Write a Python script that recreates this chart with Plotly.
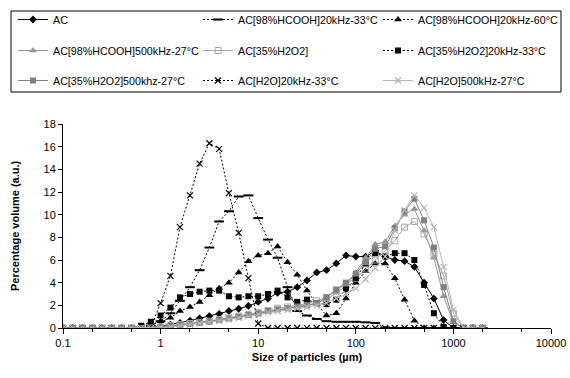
import plotly.graph_objects as go

sizes = [0.1, 0.126, 0.158, 0.2, 0.251, 0.316, 0.398, 0.501, 0.631, 0.794,
         1, 1.26, 1.58, 2, 2.51, 3.16, 3.98, 5.01, 6.31, 7.94,
         10, 12.6, 15.8, 20, 25.1, 31.6, 39.8, 50.1, 63.1, 79.4,
         100, 126, 158, 200, 251, 316, 398, 501, 631, 794,
         1000, 1259, 1585, 1995]

ac = [0, 0, 0, 0, 0, 0, 0, 0, 0, 0.05,
      0.15, 0.3, 0.45, 0.65, 0.85, 1.05, 1.25, 1.5, 1.7, 1.95,
      2.3, 2.6, 3.1, 3.2, 3.6, 4.2, 4.9, 5.1, 5.7, 6.4,
      6.3, 6.3, 6.8, 6.3, 6.0, 5.9, 5.4, 4.0, 2.6, 0.7,
      0, 0, 0, 0]

hcooh_20_33 = [0, 0, 0, 0, 0, 0, 0, 0, 0, 0.2,
               0.6, 1.3, 2.4, 3.6, 5.1, 7.1, 9.4, 10.3, 11.6, 11.7,
               9.7, 7.8, 6.2, 3.6, 1.5, 1.1, 0.8, 0.6, 0.55, 0.55,
               0.55, 0.5, 0.45, 0.05, 0, 0, 0, 0, 0, 0,
               0, 0, 0, 0]

hcooh_20_60 = [0, 0, 0, 0, 0, 0, 0, 0, 0, 0.3,
               0.6, 0.9, 1.5, 1.85, 2.3, 2.9, 3.5, 4.0, 4.9, 5.9,
               6.4, 6.6, 7.2, 5.8, 4.7, 3.3, 2.1, 1.1, 1.3, 2.6,
               4.0, 5.0, 5.7, 5.7, 4.4, 2.5, 0.65, 0, 0, 0,
               0, 0, 0, 0]

hcooh_500_27 = [0, 0, 0, 0, 0, 0, 0, 0, 0, 0.05,
                0.1, 0.2, 0.25, 0.35, 0.45, 0.55, 0.7, 0.8, 0.95, 1.1,
                1.25, 1.4, 1.6, 1.7, 1.85, 1.95, 2.2, 2.5, 3.1, 3.7,
                4.9, 6.2, 7.4, 7.6, 9.0, 10.0, 10.5, 8.6, 6.2, 2.8,
                0.5, 0, 0, 0]

h2o2 = [0, 0, 0, 0, 0, 0, 0, 0, 0, 0.05,
        0.1, 0.2, 0.3, 0.4, 0.5, 0.6, 0.75, 0.9, 1.05, 1.2,
        1.35, 1.55, 1.75, 1.85, 2.0, 2.15, 2.4, 2.7, 3.3, 3.9,
        4.4, 5.2, 6.0, 6.8, 7.7, 8.9, 9.4, 8.3, 6.5, 4.6,
        1.3, 0, 0, 0]

h2o2_20_33 = [0, 0, 0, 0, 0, 0, 0, 0, 0.2, 0.55,
              1.1, 1.8, 2.7, 3.0, 3.2, 3.3, 3.3, 2.8, 2.7, 2.8,
              2.8, 3.0, 3.3, 2.7, 2.3, 2.5, 2.2, 2.1, 2.5, 3.4,
              4.4, 5.7, 6.6, 6.3, 6.6, 6.6, 6.0, 3.8, 1.3, 0.1,
              0, 0, 0, 0]

h2o2_500_27 = [0, 0, 0, 0, 0, 0, 0, 0, 0, 0.05,
               0.05, 0.15, 0.25, 0.35, 0.45, 0.55, 0.7, 0.85, 1.0, 1.15,
               1.3, 1.5, 1.65, 1.75, 1.9, 2.0, 2.2, 2.7, 3.4, 4.0,
               4.8, 5.8, 7.0, 7.2, 8.8, 10.3, 11.4, 9.5, 7.1, 3.6,
               0.6, 0, 0, 0]

h2o_20_33 = [0, 0, 0, 0, 0, 0, 0, 0, 0, 0.05,
             2.2, 4.6, 8.9, 11.7, 14.5, 16.3, 15.8, 11.9, 8.4, 4.4,
             0.4, 0, 0, 0, 0, 0, 0, 0, 0, 0,
             0, 0, 0, 0, 0, 0, 0, 0, 0, 0,
             0, 0, 0, 0]

h2o_500_27 = [0, 0, 0, 0, 0, 0, 0, 0, 0, 0,
              0.05, 0.1, 0.2, 0.3, 0.4, 0.5, 0.6, 0.75, 0.9, 1.05,
              1.2, 1.35, 1.5, 1.6, 1.75, 1.85, 2.0, 2.2, 2.6, 3.0,
              3.5, 4.3, 5.3, 6.3, 8.6, 10.4, 11.7, 10.6, 8.9, 5.4,
              1.6, 0.1, 0, 0]

names = ["AC", "AC[98%HCOOH]20kHz-33°C", "AC[98%HCOOH]20kHz-60°C",
         "AC[98%HCOOH]500kHz-27°C", "AC[35%H2O2]", "AC[35%H2O2]20kHz-33°C",
         "AC[35%H2O2]500khz-27°C", "AC[H2O]20kHz-33°C", "AC[H2O]500kHz-27°C"]
series = [ac, hcooh_20_33, hcooh_20_60, hcooh_500_27, h2o2, h2o2_20_33,
          h2o2_500_27, h2o_20_33, h2o_500_27]

DOT = "2px,2px"
styles = [
    dict(color="black", dash="solid", symbol="diamond", msize=6, mcolor="black", mline="black", mlw=0),
    dict(color="black", dash=DOT, symbol="line-ew", msize=7, mcolor="black", mline="black", mlw=2),
    dict(color="black", dash=DOT, symbol="triangle-up", msize=7, mcolor="black", mline="black", mlw=0),
    dict(color="#969696", dash="solid", symbol="triangle-up", msize=7, mcolor="#969696", mline="#969696", mlw=0),
    dict(color="#a6a6a6", dash="solid", symbol="square-open", msize=6, mcolor="#a6a6a6", mline="#a6a6a6", mlw=1),
    dict(color="black", dash=DOT, symbol="square", msize=6, mcolor="black", mline="black", mlw=0),
    dict(color="#808080", dash="solid", symbol="square", msize=6, mcolor="#808080", mline="#808080", mlw=0),
    dict(color="black", dash=DOT, symbol="x-thin", msize=6, mcolor="black", mline="black", mlw=1.2),
    dict(color="#b4b4b4", dash="solid", symbol="x-thin", msize=6, mcolor="#b4b4b4", mline="#b4b4b4", mlw=1.2),
]

W, H = 570, 378
ML, MR, MT, MB = 63, 19, 124, 50
pw, ph = W - ML - MR, H - MT - MB
font = "Liberation Sans, Arial, sans-serif"

# legend grid: text start x (px) per column, row top y (px)
col_x = [53, 238, 418]
row_top = [5, 36, 66]

fig = go.Figure()
legends = {}
for i, (nm, ys, st) in enumerate(zip(names, series, styles)):
    lid = "legend" if i == 0 else f"legend{i + 1}"
    r, c = divmod(i, 3)
    legends[lid] = dict(
        xref="container", yref="container",
        x=(col_x[c] - 40) / W, y=1 - row_top[r] / H,
        xanchor="left", yanchor="top",
        bgcolor="rgba(0,0,0,0)", borderwidth=0,
        font=dict(family=font, size=10.7, color="black"),
    )
    fig.add_trace(go.Scatter(
        x=sizes, y=ys, name=nm, mode="lines+markers", legend=lid,
        line=dict(color=st["color"], width=1, dash=st["dash"]),
        marker=dict(symbol=st["symbol"], size=st["msize"], color=st["mcolor"],
                    line=dict(color=st["mline"], width=st["mlw"])),
    ))

# legend frame, pixel box converted to paper coordinates
bx0, bx1, by0, by1 = 11, 561, 11, 92
fig.add_shape(
    type="rect", xref="paper", yref="paper", layer="above",
    x0=(bx0 - ML) / pw, x1=(bx1 - ML) / pw,
    y0=(H - MB - by1) / ph, y1=(H - MB - by0) / ph,
    line=dict(color="black", width=1),
)

# y-axis title as a rotated annotation (fixed margins)
fig.add_annotation(
    xref="paper", yref="paper", x=(15 - ML) / pw, y=0.5,
    xanchor="center", yanchor="middle", showarrow=False, textangle=-90,
    text="<b>Percentage volume (a.u.)</b>", font=dict(family=font, size=11, color="black"),
)

fig.update_layout(
    width=W, height=H,
    margin=dict(l=ML, r=MR, t=MT, b=MB, autoexpand=False),
    paper_bgcolor="white", plot_bgcolor="white",
    font=dict(family=font, size=11, color="black"),
    showlegend=True,
    **legends,
    xaxis=dict(
        type="log", range=[-1, 4],
        tickvals=[0.1, 1, 10, 100, 1000, 10000],
        ticktext=["0.1", "1", "10", "100", "1000", "10000"],
        ticks="outside", ticklen=5, tickcolor="black",
        showline=True, linecolor="black", linewidth=1,
        showgrid=False, zeroline=False,
        minor=dict(ticks="outside", ticklen=3, tickcolor="black", showgrid=False),
        title=dict(text="<b>Size of particles (µm)</b>", font=dict(size=11), standoff=5),
        tickfont=dict(size=11),
    ),
    yaxis=dict(
        range=[0, 18], dtick=2,
        ticks="outside", ticklen=4, tickcolor="black",
        showline=True, linecolor="black", linewidth=1,
        showgrid=False, zeroline=False,
        tickfont=dict(size=11),
    ),
)

fig.write_html("out.html", config={"displayModeBar": False},
               post_script="document.body.style.margin='0px';")
